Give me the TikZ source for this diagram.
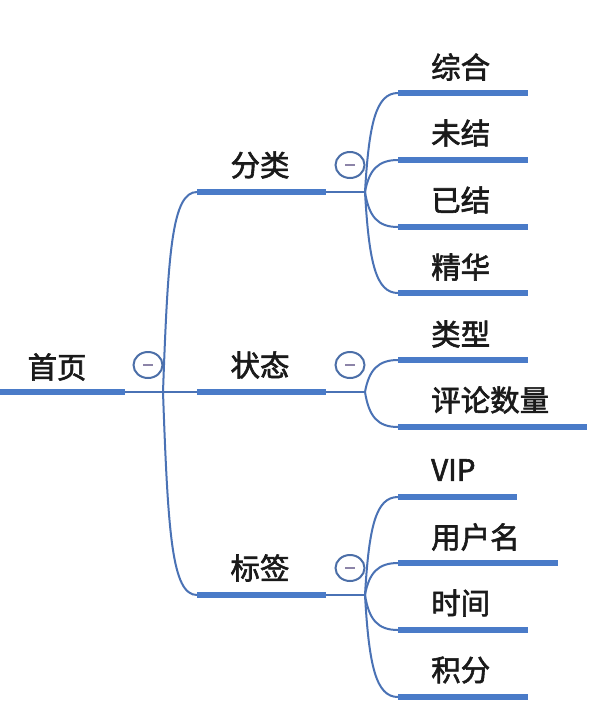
\documentclass[tikz,border=0pt]{standalone}
\usepackage{fontspec}
\setmainfont{Noto Sans CJK SC}
\newfontfamily\topicfont[FakeBold=2]{Noto Sans CJK SC}
\usetikzlibrary{shapes.geometric}
\definecolor{thickblue}{HTML}{4A7BC8}
\definecolor{thinblue}{HTML}{4A72B5}
\definecolor{circblue}{HTML}{4C6FA8}
\definecolor{minusgray}{HTML}{8C84A8}
\definecolor{txt}{HTML}{1A1A1A}
\tikzset{
  topic/.style={inner sep=0pt, text=txt, font=\topicfont\fontsize{29.5}{34}\selectfont},
  uline/.style={draw=thickblue, line width=6pt},
  thin/.style={draw=thinblue, line width=2pt},
  fold/.style={ellipse, draw=circblue, line width=2pt, minimum width=29pt, minimum height=26pt, inner sep=0pt, fill=white},
  minus/.style={draw=minusgray, line width=2.2pt}
}
\begin{document}
\begin{tikzpicture}[x=1pt,y=1pt]
\useasboundingbox[fill=white] (0,0) rectangle (605,-710);

% ---------- coordinates ----------
% root
\coordinate (rootL) at (0,-392);
\coordinate (rootR) at (125,-392);
\coordinate (J0) at (163,-392);
% level 1 underlines
\coordinate (catL) at (197,-192);   \coordinate (catR) at (326,-192);  \coordinate (J1) at (365,-192);
\coordinate (staL) at (197,-392);   \coordinate (staR) at (326,-392);  \coordinate (J2) at (365,-392);
\coordinate (tagL) at (197,-595);   \coordinate (tagR) at (326,-595);  \coordinate (J3) at (365,-595);
% level 2 underlines
\coordinate (a1L) at (398,-93);  \coordinate (a1R) at (528,-93);
\coordinate (a2L) at (398,-160); \coordinate (a2R) at (528,-160);
\coordinate (a3L) at (398,-227); \coordinate (a3R) at (528,-227);
\coordinate (a4L) at (398,-293); \coordinate (a4R) at (528,-293);
\coordinate (b1L) at (398,-360); \coordinate (b1R) at (528,-360);
\coordinate (b2L) at (398,-427); \coordinate (b2R) at (587,-427);
\coordinate (c1L) at (398,-497); \coordinate (c1R) at (517,-497);
\coordinate (c2L) at (398,-563); \coordinate (c2R) at (558,-563);
\coordinate (c3L) at (398,-630); \coordinate (c3R) at (528,-630);
\coordinate (c4L) at (398,-697); \coordinate (c4R) at (528,-697);

% ---------- connectors ----------
\draw[thin] (rootR) -- (J0) -- (staL);
\draw[thin] (J0) .. controls +(5,140) and +(-25,0) .. (catL);
\draw[thin] (J0) .. controls +(5,-142) and +(-25,0) .. (tagL);

\draw[thin] (catR) -- (J1);
\draw[thin] (J1) .. controls +(4,69) and +(-22,0) .. (a1L);
\draw[thin] (J1) .. controls +(4,22) and +(-20,0) .. (a2L);
\draw[thin] (J1) .. controls +(4,-25) and +(-20,0) .. (a3L);
\draw[thin] (J1) .. controls +(4,-71) and +(-22,0) .. (a4L);

\draw[thin] (staR) -- (J2);
\draw[thin] (J2) .. controls +(4,22) and +(-20,0) .. (b1L);
\draw[thin] (J2) .. controls +(4,-25) and +(-20,0) .. (b2L);

\draw[thin] (tagR) -- (J3);
\draw[thin] (J3) .. controls +(4,69) and +(-22,0) .. (c1L);
\draw[thin] (J3) .. controls +(4,22) and +(-20,0) .. (c2L);
\draw[thin] (J3) .. controls +(4,-25) and +(-20,0) .. (c3L);
\draw[thin] (J3) .. controls +(4,-71) and +(-22,0) .. (c4L);

% ---------- underlines ----------
\foreach \n in {root,cat,sta,tag,a1,a2,a3,a4,b1,b2,c1,c2,c3,c4}
  \draw[uline] (\n L) -- (\n R);

% ---------- texts ----------
\node[topic, anchor=center] (home) at (57,-367) {首页};
\node[topic, anchor=center] (cat) at (260,-165) {分类};
\node[topic, anchor=center] (sta) at (260,-365) {状态};
\node[topic, anchor=center] (tag) at (260,-568) {标签};

\node[topic, anchor=west] (a1) at (431,-67) {综合};
\node[topic, anchor=west] (a2) at (431,-133) {未结};
\node[topic, anchor=west] (a3) at (431,-200) {已结};
\node[topic, anchor=west] (a4) at (431,-267) {精华};
\node[topic, anchor=west] (b1) at (431,-334) {类型};
\node[topic, anchor=west] (b2) at (431,-400) {评论数量};
\node[topic, anchor=west] (c1) at (431,-470) {VIP};
\node[topic, anchor=west] (c2) at (431,-537) {用户名};
\node[topic, anchor=west] (c3) at (431,-603) {时间};
\node[topic, anchor=west] (c4) at (431,-670) {积分};

% ---------- fold buttons ----------
\foreach \nm/\x/\y in {f0/148/365, f1/350/165, f2/350/365, f3/350/568}{
  \node[fold] (\nm) at (\x,-\y) {};
  \draw[minus] ([xshift=-5pt]\nm.center) -- ([xshift=5pt]\nm.center);
}
\end{tikzpicture}
\end{document}
